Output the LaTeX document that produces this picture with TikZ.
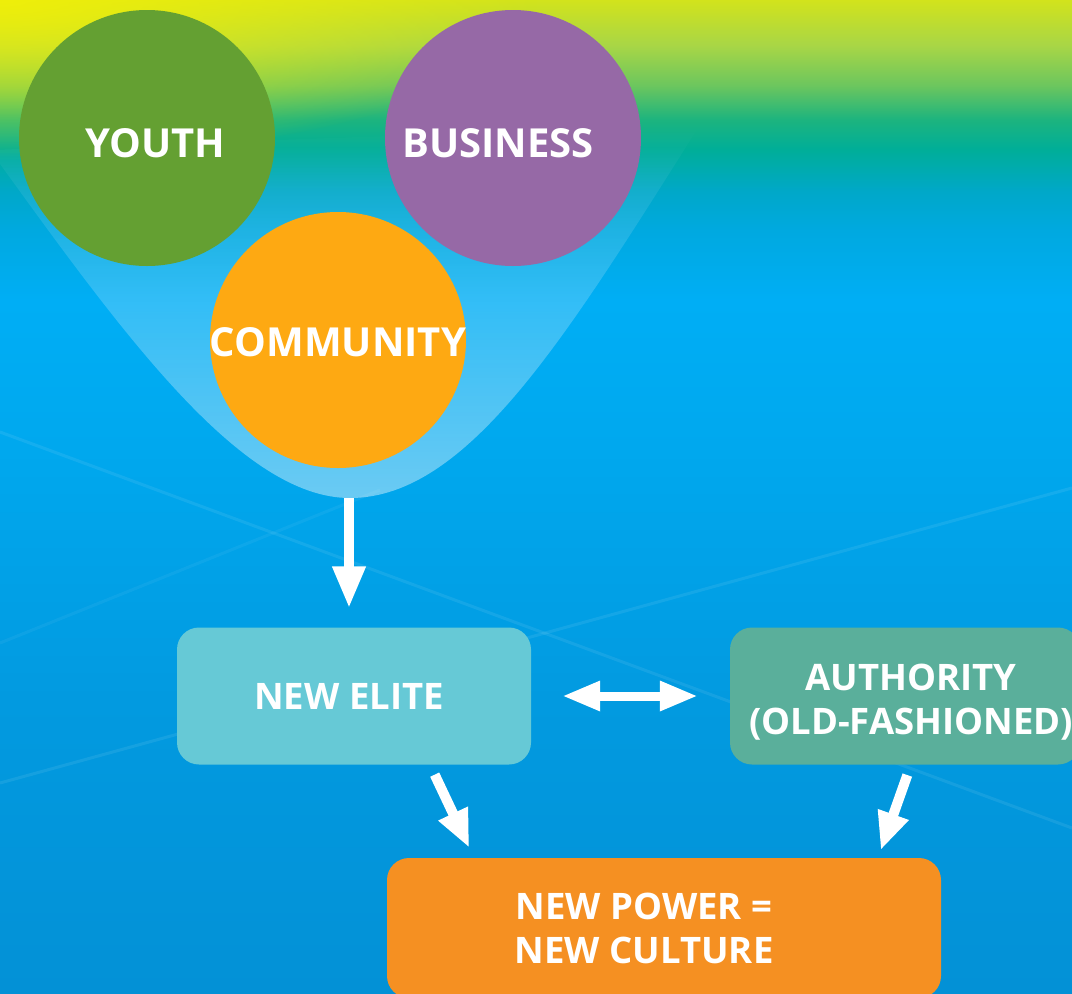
\documentclass[tikz,border=0pt]{standalone}
\usepackage{fontspec}
\setmainfont{Open Sans}
\usetikzlibrary{arrows.meta,calc,fadings}
\definecolor{cBot}{HTML}{0391D6}
\definecolor{cB2}{HTML}{029AE0}
\definecolor{cB3}{HTML}{00A8EE}
\definecolor{cB4}{HTML}{00AEF5}
\definecolor{cB5}{HTML}{00A9E0}
\definecolor{cB6}{HTML}{00A8C8}
\definecolor{cG1}{HTML}{00AE98}
\definecolor{cG2}{HTML}{1DB47E}
\definecolor{cG3}{HTML}{6CC65E}
\definecolor{cG4}{HTML}{A8D646}
\definecolor{cTop}{HTML}{D2E31C}
\definecolor{glowyellow}{HTML}{F2F008}
\definecolor{youthgreen}{HTML}{64A032}
\definecolor{businesspurple}{HTML}{9669A6}
\definecolor{communityorange}{HTML}{FEA912}
\definecolor{elitecyan}{HTML}{66C9D6}
\definecolor{authteal}{HTML}{5AAF9B}
\definecolor{powerorange}{HTML}{F59022}
\pgfdeclareverticalshading{bgshade}{100bp}{%
color(0bp)=(cBot); color(25bp)=(cBot); color(39.8bp)=(cB2); color(52.4bp)=(cB3);
color(59.9bp)=(cB4); color(63.4bp)=(cB5); color(65.4bp)=(cB6); color(67.5bp)=(cG1);
color(69bp)=(cG2); color(70.7bp)=(cG3); color(72.7bp)=(cG4); color(75bp)=(cTop); color(100bp)=(cTop)}
\tikzfading[name=glowfade, inner color=transparent!0, outer color=transparent!100]
\tikzfading[name=upfade, top color=transparent!100, middle color=transparent!62, bottom color=transparent!0]
\tikzset{
  bubble/.style={circle, minimum size=256pt, inner sep=0pt},
  bubbletext/.style={text=white, font=\fontsize{40}{44}\selectfont\bfseries, text height=28pt, text depth=0pt, inner sep=0pt},
  box/.style={rounded corners=22pt, inner sep=0pt, text=white, align=center, font=\fontsize{36.5}{44}\selectfont\bfseries},
  blk/.style={draw=white, line width=10pt, -{Triangle[length=42pt, width=31pt]}},
  blkd/.style={draw=white, line width=9pt, {Triangle[length=38pt, width=28pt]}-{Triangle[length=38pt, width=28pt]}},
  blks/.style={draw=white, line width=10pt, -{Triangle[length=38pt, width=30pt]}},
  streak/.style={white, opacity=0.08, line width=3pt}
}
\begin{document}
\begin{tikzpicture}[x=1pt,y=-1pt]
\useasboundingbox (0,0) rectangle (1072,994);
% background
\shade[shading=bgshade] (0,0) rectangle (1072,994);
\fill[glowyellow, path fading=glowfade, fill opacity=0.9] (0,0) ellipse [x radius=540, y radius=160];
\draw[streak] (0,432) -- (1072,828);
\draw[streak] (0,783) -- (1072,488);
\draw[streak, opacity=0.05] (0,643) -- (380,490);
% funnel
\fill[white, fill opacity=0.42, path fading=upfade] (-10,150) .. controls (120,330) and (240,498) .. (350,498) .. controls (470,498) and (570,330) .. (700,125) -- cycle;
\coordinate (fb) at (349,498);
% circles
\node[bubble, fill=youthgreen] (youth) at (147,138) {};
\node[bubble, fill=businesspurple] (business) at (513,138) {};
\node[bubble, fill=communityorange] (community) at (338,340) {};
\node[bubbletext] (tyouth) at (155,143) {YOUTH};
\node[bubbletext] (tbusiness) at (498,143) {BUSINESS};
\node[bubbletext] (tcommunity) at (338,342) {COMMUNITY};
% boxes
\node[box, fill=elitecyan, minimum width=354pt, minimum height=137pt] (elite) at (354,696) {};
\node[box, text height=27pt, text depth=0pt] (elitetext) at (349,696) {NEW ELITE};
\node[box, fill=authteal, minimum width=350pt, minimum height=137pt] (auth) at (905,696) {};
\node[box, text height=27pt, text depth=0pt] (authtext) at (911,721) {AUTHORITY\\(OLD-FASHIONED)};
\node[box, fill=powerorange, minimum width=554pt, minimum height=140pt] (power) at (664,928) {};
\node[box, text height=27pt, text depth=0pt] (powertext) at (644,950) {NEW POWER =\\NEW CULTURE};
% arrows
\draw[blk, shorten >=19pt] (fb) -- (fb |- elite.north);
\draw[blkd, shorten <=31pt, shorten >=32pt] (elite.east) -- (auth.west);
\draw[blks, shorten <=11pt, shorten >=11pt] ($(elite.south)+(76,0)$) -- ($(power.north)+(-190,0)$);
\draw[blks, shorten <=11pt, shorten >=8pt] ($(auth.south)+(6,0)$) -- ($(power.north)+(214,0)$);
\end{tikzpicture}
\end{document}
